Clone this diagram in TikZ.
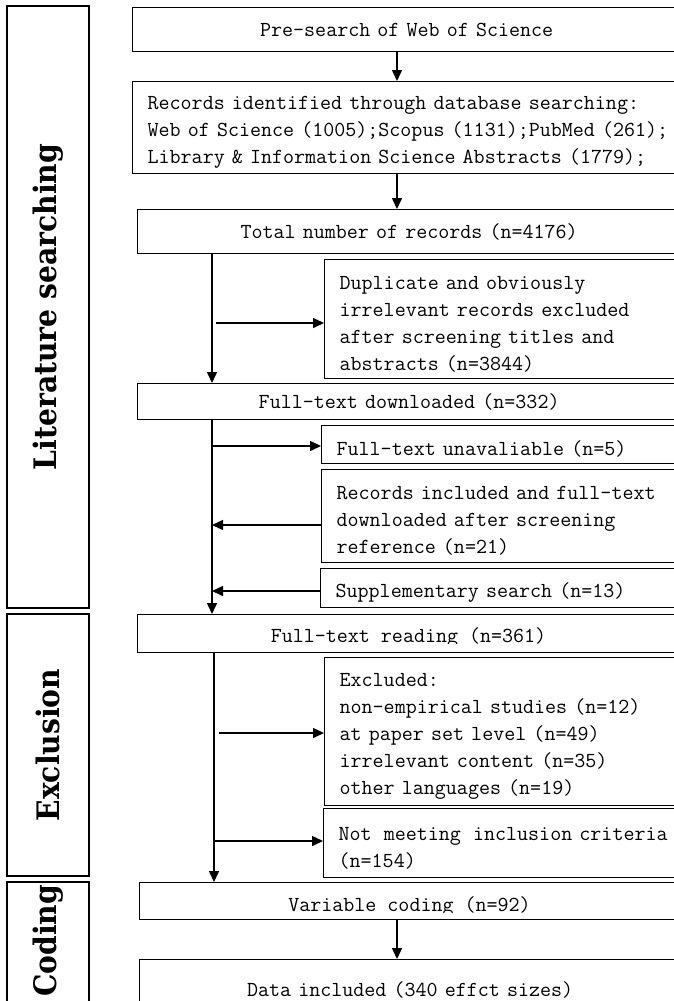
\documentclass[tikz,border=0pt]{standalone}
\usepackage{fontspec}
\newfontfamily\labelfont{DejaVu Serif}[FakeStretch=0.91]
\usetikzlibrary{arrows.meta}
\begin{document}
\begin{tikzpicture}[x=1pt,y=1pt,
  mainfont/.style={font=\fontsize{21.4}{27}\ttfamily},
  box/.style={draw, line width=1.3pt, inner sep=0pt, mainfont, anchor=north west},
  lbox/.style={box, inner xsep=15pt, align=left, text width=560pt,
    execute at begin node={\rule{0pt}{23pt}}},
  cbox/.style={box, align=center},
  arr/.style={line width=1.5pt, -{Triangle[length=11pt,width=10pt]}},
  side/.style={draw, line width=1.3pt, rotate=90, inner sep=0pt, minimum height=82pt,
    font=\fontsize{31}{31}\labelfont\bfseries}
]
\useasboundingbox (0,0) rectangle (674,-1001);

% side stage boxes
\node[side, minimum width=602pt] (lit) at (48,-307) {Literature searching};
\node[side, minimum width=262pt] (exc) at (48,-745) {Exclusion};
\node[side, minimum width=134pt] (cod) at (48,-949) {\hspace*{16pt}Coding};

% main boxes
\node[cbox, minimum width=548pt, minimum height=44pt, text width=548pt] (pre) at (132,-7) {Pre-search of Web of Science};
\node[lbox, minimum height=92pt] (rec) at (132,-81)
  {Records identified through database searching:\\Web of Science (1005);Scopus (1131);PubMed (261);\\Library \& Information Science Abstracts (1779);};
\node[cbox, minimum width=543pt, minimum height=44pt, text width=543pt] (total) at (137,-209) {Total number of records (n=4176)};
\node[lbox, minimum height=119pt] (dup) at (324,-259)
  {Duplicate and obviously\\irrelevant records excluded\\after screening titles and\\abstracts (n=3844)};
\node[cbox, minimum width=543pt, minimum height=36pt, text width=543pt] (dl) at (137,-383) {Full-text downloaded (n=332)};
\node[lbox, minimum height=38pt] (unav) at (321,-425) {Full-text unavaliable (n=5)};
\node[lbox, minimum height=93pt] (rinc) at (321,-469)
  {Records included and full-text\\downloaded after screening\\reference (n=21)};
\node[lbox, minimum height=39pt] (supp) at (320,-568) {Supplementary search (n=13)};
\node[box, minimum width=543pt, minimum height=38pt] (read) at (137,-614) {};
\begin{scope}
  \clip (137,-614) rectangle (680,-643);
  \node[mainfont, anchor=base, inner sep=0pt] (readt) at (408.5,-642) {Full-text reading (n=361)};
\end{scope}
\node[lbox, minimum height=148pt] (excl) at (324,-657)
  {Excluded:\\non-empirical studies (n=12)\\at paper set level (n=49)\\irrelevant content (n=35)\\other languages (n=19)};
\node[lbox, minimum height=69pt] (nm) at (323,-808)
  {Not\hspace{5pt} meeting\hspace{5pt} inclusion criteria\\(n=154)};
\node[box, minimum width=541pt, minimum height=37pt] (var) at (139,-882) {};
\begin{scope}
  \clip (139,-882) rectangle (680,-912);
  \node[mainfont, anchor=base, inner sep=0pt] (vart) at (409.5,-911) {Variable coding (n=92)};
\end{scope}
\node[cbox, minimum width=541pt, minimum height=60pt, text width=541pt] (data) at (139,-959) {Data included (340 effct sizes)};

% connector columns
\coordinate (a1) at (397,0);
\coordinate (s1) at (212,0);
\coordinate (s2) at (214,0);

\draw[arr] (pre.south -| a1) -- (rec.north -| a1);
\draw[arr] (rec.south -| a1) -- (total.north -| a1);
\draw[arr] (total.south -| s1) -- (dl.north -| s1);
\draw[arr] (dl.south -| s1) -- (read.north -| s1);
\draw[arr] (read.south -| s2) -- (var.north -| s2);
\draw[arr] (var.south -| a1) -- (data.north -| a1);

\coordinate (h1) at (216,-323);
\coordinate (h2) at (212,-446);
\coordinate (h3) at (212,-525);
\coordinate (h4) at (212,-591);
\coordinate (h5) at (219,-733);
\coordinate (h6) at (214,-841);
\draw[arr] (h1) -- (dup.west |- h1);
\draw[arr] (h2) -- (unav.west |- h2);
\draw[arr] (rinc.west |- h3) -- (h3);
\draw[arr] (supp.west |- h4) -- (h4);
\draw[arr] (h5) -- (excl.west |- h5);
\draw[arr] (h6) -- (nm.west |- h6);
\end{tikzpicture}
\end{document}
